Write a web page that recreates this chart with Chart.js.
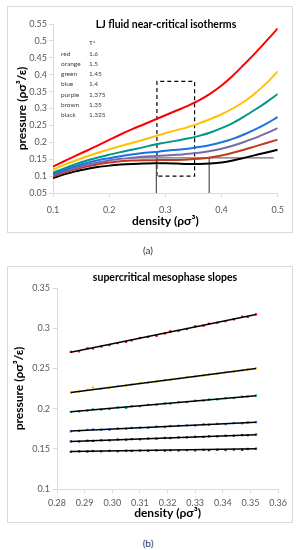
<!DOCTYPE html>
<html>
<head>
<meta charset="utf-8">
<script src="https://cdn.jsdelivr.net/npm/chart.js@4.4.1/dist/chart.umd.min.js"></script>
<style>
body { margin:0; background:#fff; width:299px; height:550px; position:relative; overflow:hidden; font-family:Lato, sans-serif; }
.frame { position:absolute; left:7px; width:286px; box-sizing:border-box; border:1px solid #d9d9d9; }
#frameA { top:6px; height:227px; }
#frameB { top:266px; height:257px; }
.frame canvas { display:block; }
.ttl { position:absolute; font-weight:bold; font-size:10.5px; color:#000; white-space:nowrap; transform:translate(-50%,-50%); }
.lg { position:absolute; font-size:6.5px; color:#404040; white-space:nowrap; transform:translateY(-50%); }
.cap { position:absolute; font-size:10px; color:#333; transform:translate(-50%,-50%); }
</style>
</head>
<body>
<div class="frame" id="frameA"><canvas id="chartA" width="284" height="225"></canvas></div>
<div class="frame" id="frameB"><canvas id="chartB" width="284" height="255"></canvas></div>
<div class="ttl" style="left:166px;top:24px">LJ fluid near-critical isotherms</div>
<div class="ttl" style="left:165px;top:277px">supercritical mesophase slopes</div>
<div id="legendA"></div>
<div class="cap" style="left:148px;top:250px">(a)</div>
<div class="cap" style="left:148px;top:543px">(b)</div>
<script>
// isotherms (a)
const dens = [0.10,0.12,0.14,0.16,0.18,0.20,0.22,0.24,0.26,0.28,0.30,0.32,0.34,0.36,0.38,0.40,0.42,0.44,0.46,0.48,0.50];
const pRed    = [0.128,0.144,0.160,0.175,0.191,0.207,0.223,0.238,0.252,0.266,0.280,0.294,0.308,0.324,0.344,0.368,0.397,0.430,0.464,0.500,0.537];
const pOrange = [0.119,0.133,0.146,0.158,0.169,0.179,0.189,0.198,0.207,0.217,0.227,0.236,0.245,0.256,0.269,0.283,0.300,0.320,0.345,0.375,0.410];
const pGreen  = [0.110,0.123,0.135,0.146,0.155,0.163,0.171,0.178,0.185,0.193,0.199,0.205,0.211,0.219,0.229,0.242,0.257,0.276,0.297,0.319,0.343];
const pBlue   = [0.106,0.118,0.129,0.139,0.147,0.153,0.159,0.164,0.168,0.171,0.175,0.178,0.181,0.186,0.192,0.200,0.210,0.223,0.238,0.255,0.275];
const pPurple = [0.102,0.114,0.124,0.133,0.140,0.146,0.151,0.154,0.157,0.159,0.161,0.163,0.166,0.169,0.174,0.181,0.190,0.201,0.213,0.227,0.242];
const pBrown  = [0.099,0.110,0.120,0.128,0.135,0.140,0.144,0.146,0.147,0.147,0.148,0.148,0.149,0.151,0.155,0.161,0.169,0.178,0.188,0.198,0.208];
const pBlack  = [0.094,0.105,0.114,0.121,0.127,0.131,0.134,0.136,0.137,0.138,0.138,0.137,0.136,0.136,0.137,0.140,0.146,0.154,0.162,0.170,0.178];

// T* table
const colourNames = ['red','orange','green','blue','purple','brown','black'];
const tempValues  = ['1.6','1.5','1.45','1.4','1.375','1.35','1.325'];

// tie line, verticals and dashed box
const tieX = [0.24, 0.493];
const tieP = [0.154, 0.154];
const vertX = [0.284, 0.378];
const vertP = [0.154, 0.05];
const boxX = [0.285, 0.285, 0.352, 0.352, 0.285];
const boxP = [0.10, 0.38, 0.38, 0.10, 0.10];

// mesophase slopes (b)
const densB = [0.285,0.288,0.291,0.293,0.296,0.299,0.302,0.305,0.307,0.310,0.313,0.316,0.319,0.321,0.324,0.327,0.330,0.333,0.335,0.338,0.341,0.344,0.347,0.349,0.352];
const bRed    = [0.2705,0.2712,0.2750,0.2748,0.2772,0.2790,0.2815,0.2830,0.2848,0.2878,0.2892,0.2905,0.2935,0.2962,0.2968,0.2990,0.3024,0.3030,0.3055,0.3068,0.3088,0.3110,0.3142,0.3140,0.3172];
const bOrange = [0.2198,0.2210,0.2232,0.2262,0.2246,0.2258,0.2280,0.2286,0.2302,0.2318,0.2322,0.2335,0.2355,0.2358,0.2372,0.2392,0.2400,0.2412,0.2428,0.2434,0.2455,0.2460,0.2476,0.2490,0.2502];
const bGreen  = [0.1958,0.1966,0.1975,0.1990,0.1988,0.1995,0.2015,0.2008,0.2030,0.2030,0.2046,0.2048,0.2065,0.2062,0.2080,0.2082,0.2098,0.2100,0.2112,0.2115,0.2130,0.2132,0.2148,0.2150,0.2162];
const bBlue   = [0.1718,0.1722,0.1735,0.1740,0.1736,0.1738,0.1752,0.1750,0.1760,0.1764,0.1762,0.1775,0.1772,0.1783,0.1786,0.1792,0.1791,0.1804,0.1800,0.1810,0.1808,0.1820,0.1818,0.1828,0.1832];
const bPurple = [0.1592,0.1591,0.1600,0.1598,0.1606,0.1605,0.1615,0.1613,0.1620,0.1619,0.1628,0.1626,0.1635,0.1634,0.1642,0.1641,0.1649,0.1648,0.1656,0.1655,0.1663,0.1662,0.1671,0.1669,0.1677];
const bBrown  = [0.1463,0.1468,0.1466,0.1472,0.1469,0.1474,0.1471,0.1476,0.1473,0.1478,0.1475,0.1480,0.1477,0.1482,0.1479,0.1484,0.1481,0.1486,0.1483,0.1488,0.1485,0.1490,0.1487,0.1498,0.1501];

// linear fits (end points)
const fitX = [0.285, 0.352];
const fitRed    = [0.270, 0.317];
const fitOrange = [0.220, 0.250];
const fitGreen  = [0.196, 0.216];
const fitBlue   = [0.172, 0.183];
const fitPurple = [0.159, 0.1675];
const fitBrown  = [0.1465, 0.150];

const zip = (xs, ys) => xs.map((x, i) => ({x: x, y: ys[i]}));

// legend table
const lgBox = document.getElementById('legendA');
lgBox.innerHTML += `<div class="lg" style="left:89px;top:42px">T*</div>`;
colourNames.forEach((name, i) => {
    const y = 52.7 + i * 10.25;
    lgBox.innerHTML += `<div class="lg" style="left:61px;top:${y}px">${name}</div>`;
    lgBox.innerHTML += `<div class="lg" style="left:89px;top:${y}px">${tempValues[i]}</div>`;
});

const tickFont = {family: 'Lato', size: 9};
const titleFont = {family: 'Lato', size: 12, weight: 'bold'};

function curve(ys, colour) {
    return {data: zip(dens, ys), borderColor: colour, borderWidth: 2, pointRadius: 0, showLine: true, cubicInterpolationMode: 'monotone'};
}
function thin(xs, ys, colour, dash) {
    return {data: zip(xs, ys), borderColor: colour, borderWidth: 1.2, pointRadius: 0, showLine: true, borderDash: dash || []};
}

new Chart(document.getElementById('chartA'), {
    type: 'scatter',
    data: {
        datasets: [
            curve(pRed, '#ff0000'),
            curve(pOrange, '#ffc000'),
            curve(pGreen, '#00968a'),
            curve(pBlue, '#1f6fe5'),
            curve(pPurple, '#7b68a8'),
            curve(pBrown, '#c0391b'),
            curve(pBlack, '#000000'),
            thin(tieX, tieP, '#707070'),
            thin([vertX[0], vertX[0]], vertP, '#505050'),
            thin([vertX[1], vertX[1]], vertP, '#505050'),
            thin(boxX, boxP, '#000000', [4, 3])
        ]
    },
    options: {
        responsive: false,
        devicePixelRatio: 1,
        animation: false,
        layout: {padding: {top: 17, right: 13, left: 0, bottom: 0}},
        plugins: {legend: {display: false}, tooltip: {enabled: false}},
        scales: {
            x: {
                type: 'linear', min: 0.1, max: 0.5,
                afterFit: s => { s.height = 39; },
                ticks: {stepSize: 0.1, padding: 8, color: '#595959', font: tickFont, callback: v => v.toFixed(1)},
                grid: {drawOnChartArea: false, tickLength: 4, color: '#d9d9d9'},
                border: {color: '#d9d9d9'},
                title: {display: true, text: 'density (ρσ³)', color: '#000', font: titleFont, padding: {top: 0, bottom: 4}}
            },
            y: {
                min: 0.05, max: 0.55,
                afterFit: s => { s.width = 45; },
                ticks: {stepSize: 0.05, padding: 2, color: '#595959', font: tickFont, callback: v => String(+v.toFixed(2))},
                grid: {drawOnChartArea: false, tickLength: 4, color: '#d9d9d9'},
                border: {color: '#d9d9d9'},
                title: {display: true, text: 'pressure (ρσ³/ε)', color: '#000', font: titleFont, padding: {top: 7, bottom: 0}}
            }
        }
    }
});

function dots(ys, colour) {
    return {data: zip(densB, ys), backgroundColor: colour, borderColor: colour, pointRadius: 1.6, pointStyle: 'rect', borderWidth: 0, showLine: false};
}
function fit(ys) {
    return {data: zip(fitX, ys), borderColor: '#000', borderWidth: 1.5, pointRadius: 0, showLine: true};
}

new Chart(document.getElementById('chartB'), {
    type: 'scatter',
    data: {
        datasets: [
            fit(fitRed), fit(fitOrange), fit(fitGreen), fit(fitBlue), fit(fitPurple), fit(fitBrown),
            dots(bRed, '#ff0000'),
            dots(bOrange, '#ffc000'),
            dots(bGreen, '#00a0a0'),
            dots(bBlue, '#1f6fe5'),
            dots(bPurple, '#3a3450'),
            dots(bBrown, '#333333')
        ]
    },
    options: {
        responsive: false,
        devicePixelRatio: 1,
        animation: false,
        layout: {padding: {top: 21, right: 9, left: 0, bottom: 0}},
        plugins: {legend: {display: false}, tooltip: {enabled: false}},
        scales: {
            x: {
                type: 'linear', min: 0.28, max: 0.36,
                afterFit: s => { s.height = 33; },
                ticks: {stepSize: 0.01, padding: 5, color: '#595959', font: tickFont, callback: v => v.toFixed(2)},
                grid: {drawOnChartArea: false, tickLength: 4, color: '#d9d9d9'},
                border: {color: '#d9d9d9'},
                title: {display: true, text: 'density (ρσ³)', color: '#000', font: titleFont, padding: {top: 0, bottom: 2}}
            },
            y: {
                min: 0.1, max: 0.35,
                afterFit: s => { s.width = 49; },
                ticks: {stepSize: 0.05, padding: 3, color: '#595959', font: tickFont, callback: v => String(+v.toFixed(2))},
                grid: {drawOnChartArea: false, tickLength: 4, color: '#d9d9d9'},
                border: {color: '#d9d9d9'},
                title: {display: true, text: 'pressure (ρσ³/ε)', color: '#000', font: titleFont, padding: {top: 4, bottom: 0}}
            }
        }
    }
});
</script>
</body>
</html>
